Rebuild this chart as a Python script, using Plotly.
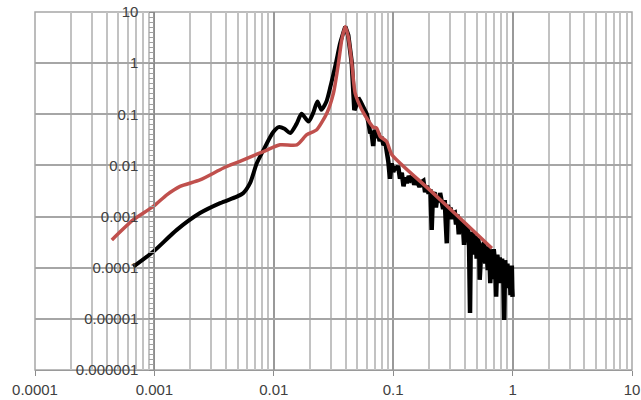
import plotly.graph_objects as go

# ---- data ----
black_smooth_x = [6.67e-4, 9.8e-4, 1.54e-3, 2.41e-3, 3.55e-3, 4.9e-3, 5.56e-3, 6.32e-3, 7.2e-3,
                  8.2e-3, 9.9e-3, 1.1e-2, 1.23e-2, 1.37e-2, 1.55e-2, 1.71e-2, 1.95e-2, 2.15e-2,
                  2.32e-2, 2.5e-2, 2.76e-2, 2.96e-2, 3.31e-2, 3.6e-2, 3.96e-2]
black_smooth_y = [1.05e-4, 2.07e-4, 5.5e-4, 1.17e-3, 1.83e-3, 2.46e-3, 2.9e-3, 4.5e-3, 1.1e-2,
                  2.02e-2, 4.5e-2, 5.6e-2, 5.2e-2, 4.3e-2, 6.5e-2, 0.102, 0.072, 0.11,
                  0.178, 0.122, 0.178, 0.326, 1.0, 2.5, 5.2]

black_tail_x = [0.0396, 0.042, 0.045, 0.0465, 0.0473, 0.049, 0.051, 0.053, 0.055, 0.057, 0.060,
                0.062, 0.064, 0.066, 0.068, 0.070, 0.072, 0.075, 0.077, 0.080, 0.083, 0.086,
                0.088, 0.091, 0.094, 0.097, 0.100, 0.104, 0.107, 0.110, 0.114, 0.118, 0.122,
                0.126, 0.130, 0.135, 0.140, 0.145, 0.150, 0.155, 0.160, 0.166, 0.172, 0.179,
                0.185, 0.192, 0.198, 0.205, 0.210, 0.215, 0.222, 0.228, 0.235, 0.242, 0.247,
                0.255, 0.262, 0.270, 0.276, 0.281, 0.287, 0.295, 0.302, 0.310, 0.320, 0.328,
                0.336, 0.345, 0.354, 0.362, 0.372, 0.382, 0.392, 0.402, 0.412, 0.422, 0.432,
                0.440, 0.447, 0.458, 0.470, 0.478, 0.490, 0.500, 0.512, 0.525, 0.530, 0.537,
                0.550, 0.563, 0.576, 0.590, 0.605, 0.620, 0.635, 0.650, 0.665, 0.680, 0.695,
                0.712, 0.728, 0.745, 0.762, 0.780, 0.798, 0.816, 0.835, 0.850, 0.865, 0.885,
                0.905, 0.925, 0.945, 0.960, 0.972, 0.985, 0.993, 1.000]
black_tail_y = [5.2, 3.5, 1.0, 0.25, 0.12, 0.15, 0.21, 0.18, 0.15, 0.12, 0.10,
                0.07, 0.045, 0.043, 0.024, 0.05, 0.035, 0.043, 0.03, 0.036, 0.025, 0.028,
                0.02, 0.012, 0.0055, 0.011, 0.0075, 0.0095, 0.0082, 0.0098, 0.0055, 0.0072, 0.0039,
                0.0058, 0.0045, 0.0062, 0.0052, 0.0056, 0.0042, 0.0050, 0.0046, 0.0038, 0.0047, 0.0050,
                0.0030, 0.0040, 0.0028, 0.0034, 0.00055, 0.0026, 0.0030, 0.0015, 0.0026, 0.0019, 0.0029,
                0.0021, 0.0014, 0.0021, 0.0006, 0.0003, 0.0017, 0.0011, 0.0015, 0.0009, 0.00117, 0.0012,
                0.0007, 0.0011, 0.00045, 0.0009, 0.0006, 0.0008, 0.00028, 0.00072, 0.0005, 0.00062, 0.00025,
                0.000013, 0.0005, 0.00035, 0.00048, 0.00018, 0.00042, 0.00015, 0.00038, 0.00028, 0.000058, 0.00009,
                0.0003, 0.00022, 0.00032, 0.00012, 0.00026, 0.00009, 0.00025, 0.00005, 0.00022, 0.00006, 0.00023,
                0.00013, 0.000027, 0.00018, 0.00011, 0.00016, 0.00005, 0.00015, 0.00008, 0.0000095, 0.00014, 0.00006,
                0.00012, 0.00004, 0.0001, 0.000029, 0.00009, 0.00011, 0.00004, 0.000027]

red_x = [4.4e-4, 6.67e-4, 9.8e-4, 1.27e-3, 1.64e-3, 2.41e-3, 3.79e-3, 5.2e-3, 7.4e-3, 8.2e-3,
         1.13e-2, 1.56e-2, 1.89e-2, 2.29e-2, 2.78e-2, 3.16e-2, 3.48e-2, 3.71e-2, 3.96e-2, 4.2e-2,
         4.5e-2, 4.8e-2, 5.46e-2, 6.4e-2, 6.8e-2, 7.25e-2, 7.77e-2, 8.8e-2, 9.75e-2, 0.2, 0.4, 0.67]
red_y = [3.5e-4, 8.7e-4, 1.58e-3, 2.66e-3, 3.9e-3, 5.2e-3, 8.9e-3, 0.012, 0.017, 0.0187,
         0.0253, 0.0253, 0.04, 0.05, 0.105, 0.26, 1.0, 2.87, 5.2, 3.3,
         1.0, 0.26, 0.123, 0.067, 0.056, 0.054, 0.037, 0.0293, 0.0162, 3.4e-3, 7.5e-4, 2.4e-4]

x_tick_vals = [1e-4, 1e-3, 1e-2, 1e-1, 1, 10]
x_tick_text = ["0.0001", "0.001", "0.01", "0.1", "1", "10"]
y_tick_vals = [1e-6, 1e-5, 1e-4, 1e-3, 1e-2, 1e-1, 1, 10]
y_tick_text = ["0.000001", "0.00001", "0.0001", "0.001", "0.01", "0.1", "1", "10"]

# ---- figure ----
BLACK = "#000000"
RED = "#C0504D"
font = dict(family="Liberation Sans, Arial, sans-serif", size=15, color="#404040")

fig = go.Figure()
fig.add_trace(go.Scatter(x=black_smooth_x, y=black_smooth_y, mode="lines",
                         line=dict(color=BLACK, width=4, shape="spline", smoothing=0.7),
                         showlegend=False, hoverinfo="skip"))
fig.add_trace(go.Scatter(x=black_tail_x, y=black_tail_y, mode="lines",
                         line=dict(color=BLACK, width=4.5),
                         showlegend=False, hoverinfo="skip"))
fig.add_trace(go.Scatter(x=red_x, y=red_y, mode="lines",
                         line=dict(color=RED, width=3.5, shape="spline", smoothing=0.6),
                         showlegend=False, hoverinfo="skip"))

x_minor = [m * 10.0 ** d for d in range(-4, 1) for m in range(2, 10)]
y_minor = [10.0 ** (d + j / 10) for d in range(-6, 1) for j in range(1, 10)]

fig.update_layout(
    width=641, height=400,
    margin=dict(l=35, r=9, t=12, b=30),
    paper_bgcolor="white", plot_bgcolor="white",
    font=font,
    xaxis=dict(type="log", range=[-4, 1], domain=[0, 1], automargin=False,
               tickmode="array", tickvals=x_tick_vals, ticktext=x_tick_text,
               showgrid=True, gridcolor="#999999", gridwidth=1.5,
               ticks="outside", ticklen=5, tickcolor="#8c8c8c",
               showline=True, linecolor="#9a9a9a", zeroline=False,
               ticklabelstandoff=1,
               minor=dict(tickvals=x_minor, showgrid=True, gridcolor="#c2c2c2", gridwidth=1.5, ticks="")),
    yaxis=dict(type="log", range=[-6, 1], anchor="free", position=0.2, automargin=False,
               tickmode="array", tickvals=y_tick_vals, ticktext=y_tick_text,
               showgrid=True, gridcolor="#a6a6a6", gridwidth=1.5,
               ticks="outside", ticklen=5, tickcolor="#8c8c8c",
               showline=True, linecolor="#8c8c8c", zeroline=False,
               ticklabelstandoff=8,
               minor=dict(tickvals=y_minor, showgrid=False, ticks="outside", ticklen=5,
                          tickcolor="#a0a0a0")),
    shapes=[dict(type="rect", xref="paper", yref="paper", x0=0, x1=1, y0=0, y1=1,
                 line=dict(color="#a6a6a6", width=1.5), layer="below")],
)

fig.write_html("out.html")
